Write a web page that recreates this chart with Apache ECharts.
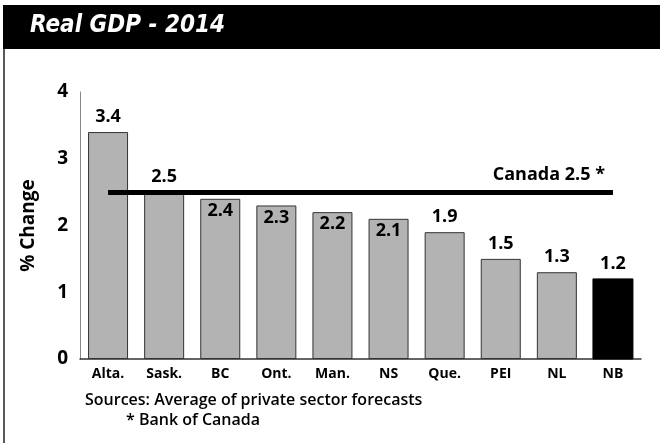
<!DOCTYPE html>
<html><head><meta charset="utf-8">
<script src="https://cdn.jsdelivr.net/npm/echarts@6/dist/echarts.min.js"></script>
<style>html,body{margin:0;padding:0;background:#fff}#c{width:660px;height:443px}</style>
</head><body><div id="c"></div>
<script>
const categories = ['Alta.', 'Sask.', 'BC', 'Ont.', 'Man.', 'NS', 'Que.', 'PEI', 'NL', 'NB'];
const gdpValues = [3.4, 2.5, 2.4, 2.3, 2.2, 2.1, 1.9, 1.5, 1.3, 1.2];
const canadaValue = 2.5;
const yTicks = [0, 1, 2, 3, 4];
const highlight = 'NB';
const insideLabelCats = ['BC', 'Ont.', 'Man.', 'NS'];

const FONT = '"Open Sans", "Noto Sans", sans-serif';
const chart = echarts.init(document.getElementById('c'), null, {renderer: 'canvas'});
chart.setOption({
  animation: false,
  backgroundColor: '#fff',
  graphic: [
    {type: 'rect', shape: {x: 3, y: 5, width: 660, height: 44}, style: {fill: '#000'}},
    {type: 'line', shape: {x1: 4, y1: 49, x2: 4, y2: 443}, style: {stroke: '#222', lineWidth: 1.5}},
    {type: 'text', left: 30, top: 14, style: {text: 'Real GDP - 2014', fill: '#fff', font: 'italic bold 24px "Liberation Sans Narrow", "DejaVu Sans Condensed", sans-serif'}},
    {type: 'text', left: 85, top: 392, style: {text: 'Sources: Average of private sector forecasts', fill: '#000', font: '600 16px ' + FONT}},
    {type: 'text', left: 126, top: 412, style: {text: '* Bank of Canada', fill: '#000', font: '600 16px ' + FONT}}
  ],
  grid: {left: 80, right: 19, top: 92, bottom: 84},
  xAxis: {
    type: 'category', data: categories,
    axisLine: {lineStyle: {color: '#333', width: 1.5}},
    axisTick: {show: false},
    axisLabel: {color: '#000', fontWeight: 'bold', fontSize: 14, fontFamily: FONT, margin: 8}
  },
  yAxis: {
    type: 'value', min: 0, max: 4, interval: 1,
    name: '% Change', nameLocation: 'middle', nameGap: 42, nameRotate: 90,
    nameTextStyle: {color: '#000', fontWeight: 'bold', fontSize: 19, fontFamily: FONT},
    splitLine: {show: false},
    axisLine: {show: true, lineStyle: {color: '#888', width: 1}},
    axisTick: {show: false},
    axisLabel: {color: '#000', fontWeight: 'bold', fontSize: 19, fontFamily: FONT, margin: 12,
      formatter: v => yTicks.includes(v) ? String(v) : ''}
  },
  series: [{
    type: 'bar', barWidth: 40,
    data: gdpValues.map((v, i) => {
      const d = {
        value: v,
        itemStyle: categories[i] === highlight ? {color: '#000', borderColor: '#000'} : {color: '#b3b3b3', borderColor: '#333', borderWidth: 1}
      };
      if (insideLabelCats.includes(categories[i])) d.label = {position: 'insideTop', distance: 3};
      return d;
    }),
    label: {show: true, position: 'top', color: '#000', fontWeight: 'bold', fontSize: 18, fontFamily: FONT, distance: 6,
      formatter: p => p.value.toFixed(1)},
    markLine: {
      symbol: 'none', silent: true,
      lineStyle: {color: '#000', width: 5, type: 'solid'},
      label: {show: true, position: 'insideEndTop', formatter: 'Canada ' + canadaValue.toFixed(1) + ' *',
        color: '#000', fontWeight: 'bold', fontSize: 18, fontFamily: FONT, distance: 8},
      data: [[{coord: [categories[0], canadaValue]}, {coord: [categories[categories.length - 1], canadaValue]}]]
    }
  }]
});
</script></body></html>
